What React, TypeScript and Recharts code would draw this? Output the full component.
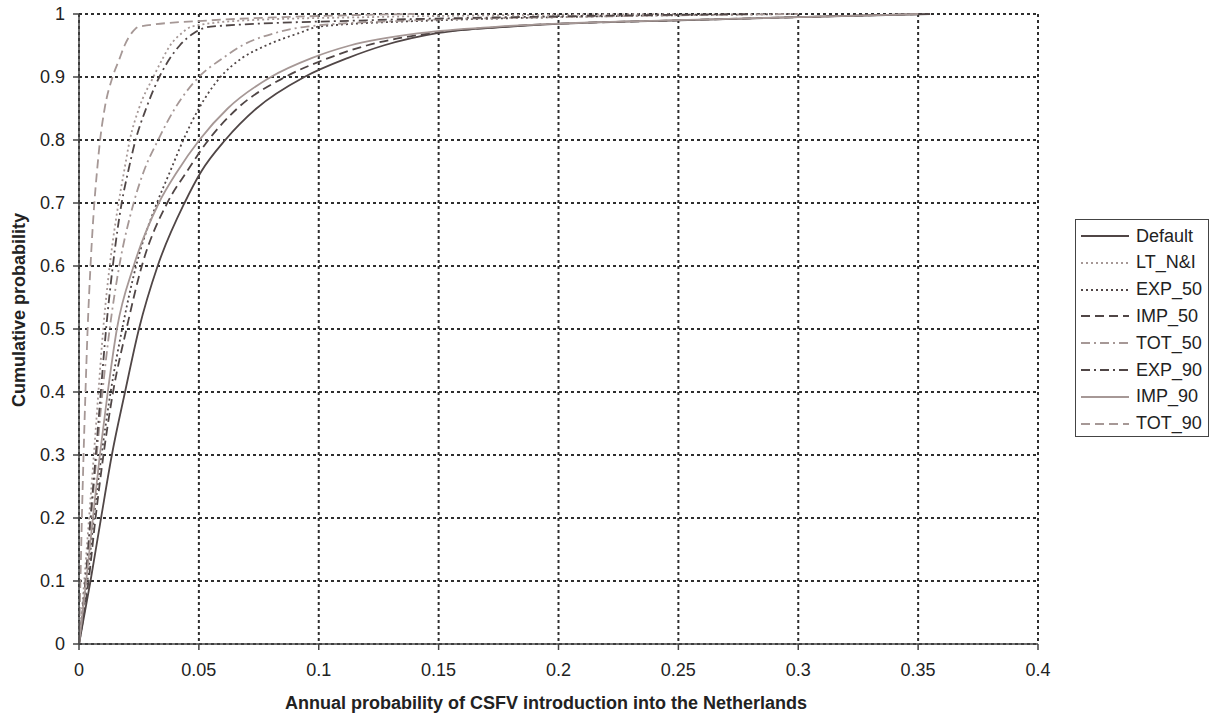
import React from 'react';
import { LineChart, Line, XAxis, YAxis, CartesianGrid } from 'recharts';

// cumulative probability levels shared by every curve
const PROB_LEVELS = [0, 0.1, 0.2, 0.3, 0.4, 0.5, 0.6, 0.7, 0.75, 0.8, 0.85, 0.9, 0.93, 0.95, 0.97, 0.98, 0.99, 0.995, 1];

// annual probability reached by each scenario at the levels above
const DEFAULT_X = [0, 0.0048, 0.0092, 0.0137, 0.0192, 0.025, 0.0328, 0.044, 0.051, 0.061, 0.074, 0.094, 0.112, 0.127, 0.15, 0.18, 0.25, 0.3, 0.355];
const LTNI_X = [0, 0.0022, 0.0042, 0.0062, 0.0081, 0.0101, 0.0128, 0.0165, 0.0188, 0.0212, 0.025, 0.031, 0.035, 0.038, 0.043, 0.047, 0.07, 0.12, 0.25];
const EXP50_X = [0, 0.0035, 0.0062, 0.0094, 0.0132, 0.018, 0.0238, 0.0325, 0.038, 0.0435, 0.05, 0.059, 0.068, 0.078, 0.092, 0.1, 0.15, 0.2, 0.3];
const IMP50_X = [0, 0.004, 0.0069, 0.0102, 0.0142, 0.0198, 0.0262, 0.0368, 0.045, 0.054, 0.066, 0.086, 0.104, 0.12, 0.148, 0.178, 0.25, 0.3, 0.352];
const TOT50_X = [0, 0.0028, 0.005, 0.0074, 0.0098, 0.0128, 0.0168, 0.0228, 0.027, 0.033, 0.04, 0.05, 0.06, 0.068, 0.082, 0.095, 0.14, 0.2, 0.3];
const EXP90_X = [0, 0.0027, 0.0048, 0.007, 0.0091, 0.0113, 0.0141, 0.0178, 0.0205, 0.0236, 0.028, 0.0335, 0.038, 0.042, 0.048, 0.055, 0.12, 0.18, 0.28];
const IMP90_X = [0, 0.003, 0.0058, 0.0087, 0.012, 0.0158, 0.0228, 0.0333, 0.041, 0.0502, 0.062, 0.08, 0.097, 0.113, 0.143, 0.175, 0.245, 0.3, 0.35];
const TOT90_X = [0, 0.0006, 0.0012, 0.0019, 0.0027, 0.0036, 0.0048, 0.0064, 0.0075, 0.0088, 0.0107, 0.014, 0.017, 0.019, 0.022, 0.025, 0.055, 0.085, 0.14];

const X_TICKS = [0, 0.05, 0.1, 0.15, 0.2, 0.25, 0.3, 0.35, 0.4];
const Y_TICKS = [0, 0.1, 0.2, 0.3, 0.4, 0.5, 0.6, 0.7, 0.8, 0.9, 1];

const DARK = '#504646';
const LIGHT = '#a69896';
const FONT = '"Liberation Sans", Arial, sans-serif';

const toPoints = (xs: number[]) => PROB_LEVELS.map((p, i) => ({ x: xs[i], p }));

const SERIES = [
  { name: 'Default', xs: DEFAULT_X, color: DARK, dash: undefined },
  { name: 'LT_N&I', xs: LTNI_X, color: LIGHT, dash: '2 3' },
  { name: 'EXP_50', xs: EXP50_X, color: DARK, dash: '2 3' },
  { name: 'IMP_50', xs: IMP50_X, color: DARK, dash: '9 5' },
  { name: 'TOT_50', xs: TOT50_X, color: LIGHT, dash: '9 4 2 4' },
  { name: 'EXP_90', xs: EXP90_X, color: DARK, dash: '9 4 2 4' },
  { name: 'IMP_90', xs: IMP90_X, color: LIGHT, dash: undefined },
  { name: 'TOT_90', xs: TOT90_X, color: LIGHT, dash: '9 5' },
];

function AxisTitle({ tx, ty, text, rotate }: { tx: number; ty: number; text: string; rotate?: boolean }) {
  return (
    <text
      x={tx}
      y={ty}
      transform={rotate ? `rotate(-90, ${tx}, ${ty})` : undefined}
      textAnchor="middle"
      dominantBaseline="central"
      fontFamily={FONT}
      fontSize={18}
      fontWeight="bold"
      fill="#222"
    >
      {text}
    </text>
  );
}

function ChartLegend() {
  return (
    <div
      style={{
        position: 'absolute',
        left: 1075,
        top: 219,
        width: 132,
        height: 216,
        border: '1.5px solid #444',
        background: '#fff',
        fontFamily: FONT,
        fontSize: 18,
        color: '#222',
        boxSizing: 'content-box',
      }}
    >
      {SERIES.map((s, i) => (
        <div
          key={s.name}
          style={{ position: 'absolute', left: 0, top: 3 + i * 26.8, height: 26, display: 'flex', alignItems: 'center' }}
        >
          <svg width={58} height={26} style={{ display: 'block' }}>
            <line x1={5} x2={53} y1={13} y2={13} stroke={s.color} strokeWidth={2} strokeDasharray={s.dash} />
          </svg>
          <span style={{ marginLeft: 2, whiteSpace: 'nowrap' }}>{s.name}</span>
        </div>
      ))}
    </div>
  );
}

export default function App() {
  const tickStyle = { fontFamily: FONT, fontSize: 18, fill: '#222' };
  return (
    <div style={{ position: 'absolute', left: 0, top: 0, width: 1211, height: 715, background: '#fff' }}>
      <LineChart width={1211} height={715} margin={{ top: 14, right: 173, bottom: 0, left: 0 }}>
        <CartesianGrid stroke="#2e2e2e" strokeWidth={2} strokeDasharray="3 3" />
        <XAxis
          dataKey="x"
          type="number"
          domain={[0, 0.4]}
          ticks={X_TICKS}
          interval={0}
          height={71}
          tick={tickStyle}
          tickSize={6}
          tickMargin={13}
          stroke="#444"
          strokeWidth={1.5}
          allowDuplicatedCategory={false}
          label={<AxisTitle tx={546} ty={703} text="Annual probability of CSFV introduction into the Netherlands" />}
        />
        <YAxis
          dataKey="p"
          type="number"
          domain={[0, 1]}
          ticks={Y_TICKS}
          interval={0}
          width={79}
          tick={tickStyle}
          tickSize={6}
          tickMargin={8}
          stroke="#444"
          strokeWidth={1.5}
          label={<AxisTitle tx={18.5} ty={310} text="Cumulative probability" rotate />}
        />
        {SERIES.map((s) => (
          <Line
            key={s.name}
            data={toPoints(s.xs)}
            dataKey="p"
            name={s.name}
            type="monotone"
            stroke={s.color}
            strokeWidth={1.8}
            strokeDasharray={s.dash}
            dot={false}
            activeDot={false}
            isAnimationActive={false}
          />
        ))}
      </LineChart>
      <ChartLegend />
    </div>
  );
}
